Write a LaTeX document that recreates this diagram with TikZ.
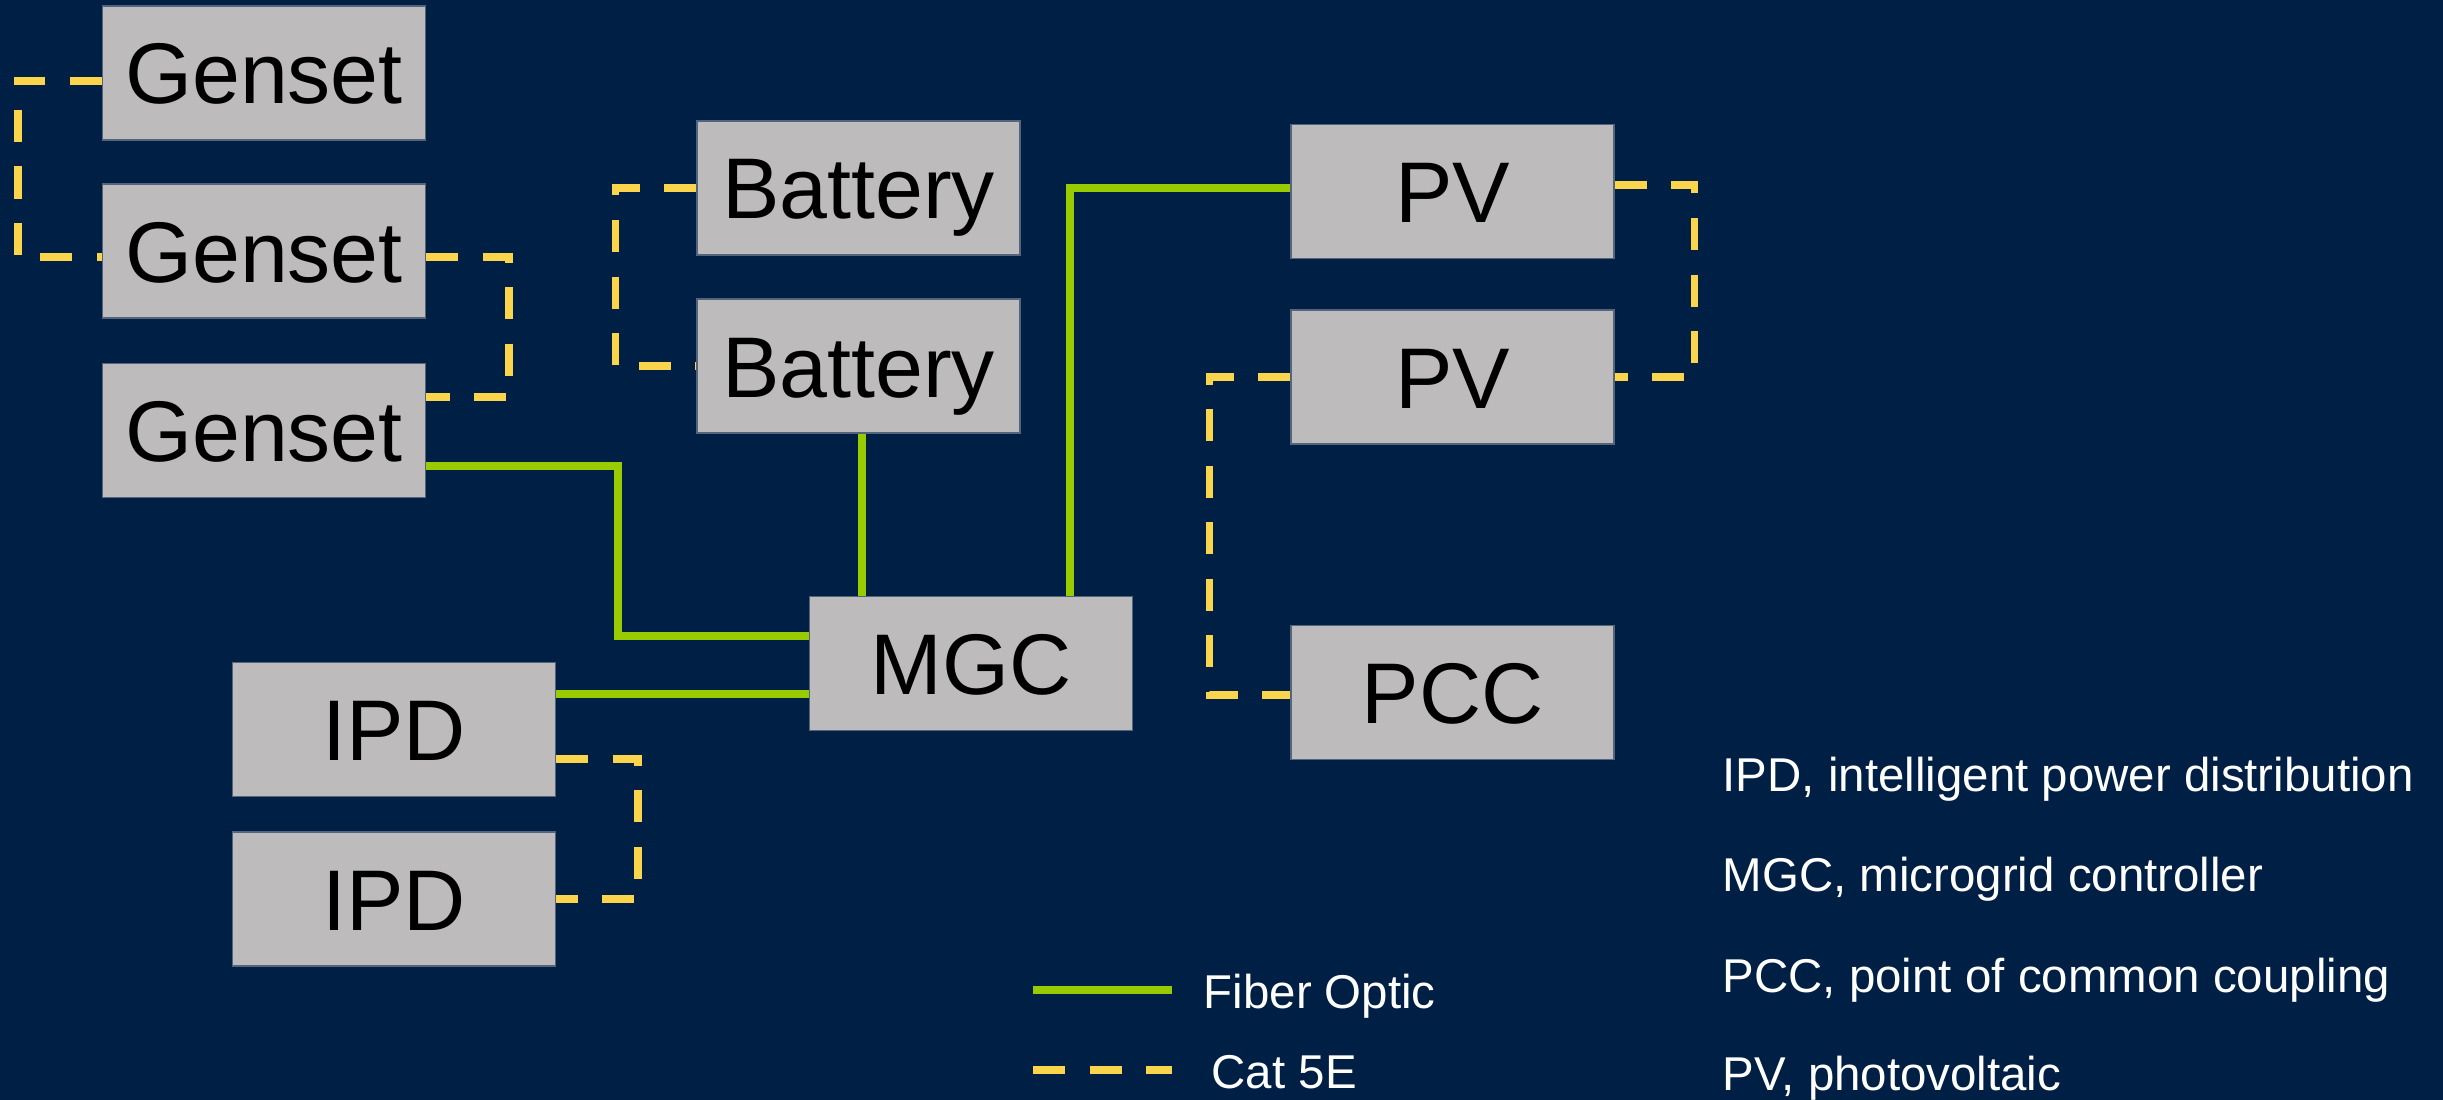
\documentclass[tikz,border=0pt]{standalone}
\usepackage{fontspec}
\setmainfont{Liberation Sans}
\usetikzlibrary{positioning}

\definecolor{navy}{RGB}{0,31,68}
\definecolor{boxgray}{RGB}{189,187,187}
\definecolor{boxedge}{RGB}{84,100,125}
\definecolor{fibergreen}{RGB}{153,204,0}
\definecolor{catyellow}{RGB}{250,212,75}

\begin{document}
\begin{tikzpicture}[node distance=1.78cm,
  unit/.style={rectangle, draw=boxedge, line width=0.4pt, fill=boxgray, minimum width=3.23cm, minimum height=1.34cm, inner sep=0pt, text height=0.62cm, text depth=0pt, font=\fontsize{24.5}{24.5}\selectfont},
  fiber/.style={draw=fibergreen, line width=0.075cm},
  cat/.style={draw=catyellow, line width=0.075cm, dash pattern=on 0.32cm off 0.245cm},
  note/.style={text=white, inner sep=0pt, anchor=base west, font=\fontsize{13.5}{13.5}\selectfont}]

\useasboundingbox (0,0) rectangle (24.43,10.99);
\fill[navy] (-0.2,-0.2) rectangle (24.63,11.19);

\node (g1) [unit] at (2.64,10.26) {Genset};
\node (g2) [unit, below of=g1] {Genset};
\node (g3) [unit, node distance=1.795cm, below of=g2] {Genset};

\node (b1) [unit] at (8.585,9.11) {Battery};
\node (b2) [unit, below of=b1] {Battery};

\node (pv1) [unit] at (14.525,9.075) {PV};
\node (pv2) [unit, node distance=1.855cm, below of=pv1] {PV};
\node (pcc) [unit, node distance=3.155cm, below of=pv2] {PCC};

\node (mgc) [unit] at (9.71,4.355) {MGC};

\node (ipd1) [unit] at (3.94,3.695) {IPD};
\node (ipd2) [unit, node distance=1.695cm, below of=ipd1] {IPD};

\draw[cat] ([yshift=-0.08cm]g1.west) -- ++(-0.84,0) |- ([yshift=-0.06cm]g2.west);
\draw[cat] ([yshift=-0.06cm]g2.east) -- ++(0.83,0) |- ([yshift=0.335cm]g3.east);
\draw[fiber] ([yshift=-0.355cm]g3.east) -- ++(1.92,0) |- ([yshift=0.275cm]mgc.west);

\draw[fiber] ([yshift=0.355cm]ipd1.east) -- ([yshift=0.355cm]ipd1.east -| mgc.west);
\draw[cat] ([yshift=-0.295cm]ipd1.east) -- ++(0.82,0) |- (ipd2.east);

\draw[cat] (b1.west) -- ++(-0.81,0) |- (b2.west);
\draw[fiber] ([xshift=0.035cm]b2.south) -- ([xshift=0.035cm]b2.south |- mgc.north);
\draw[fiber] ([xshift=0.99cm]mgc.north) |- ([yshift=0.035cm]pv1.west);

\draw[cat] ([yshift=0.065cm]pv1.east) -- ++(0.8,0) |- (pv2.east);
\draw[cat] (pv2.west) -- ++(-0.81,0) |- ([yshift=-0.025cm]pcc.west);

\coordinate (fiberA) at (10.33,1.09);
\coordinate (fiberB) at (11.72,1.09);
\coordinate (catA) at (10.33,0.29);
\coordinate (catB) at (11.72,0.29);
\draw[fiber] (fiberA) -- (fiberB);
\draw[cat] (catA) -- (catB);
\node (fibertxt) [note] at (12.03,0.91) {Fiber Optic};
\node (cattxt) [note] at (12.11,0.11) {Cat 5E};

\node (ipdnote) [note] at (17.22,3.08) {IPD, intelligent power distribution};
\node (mgcnote) [note] at (17.22,2.08) {MGC, microgrid controller};
\node (pccnote) [note] at (17.22,1.07) {PCC, point of common coupling};
\node (pvnote) [note] at (17.22,0.09) {PV, photovoltaic};

\end{tikzpicture}
\end{document}
